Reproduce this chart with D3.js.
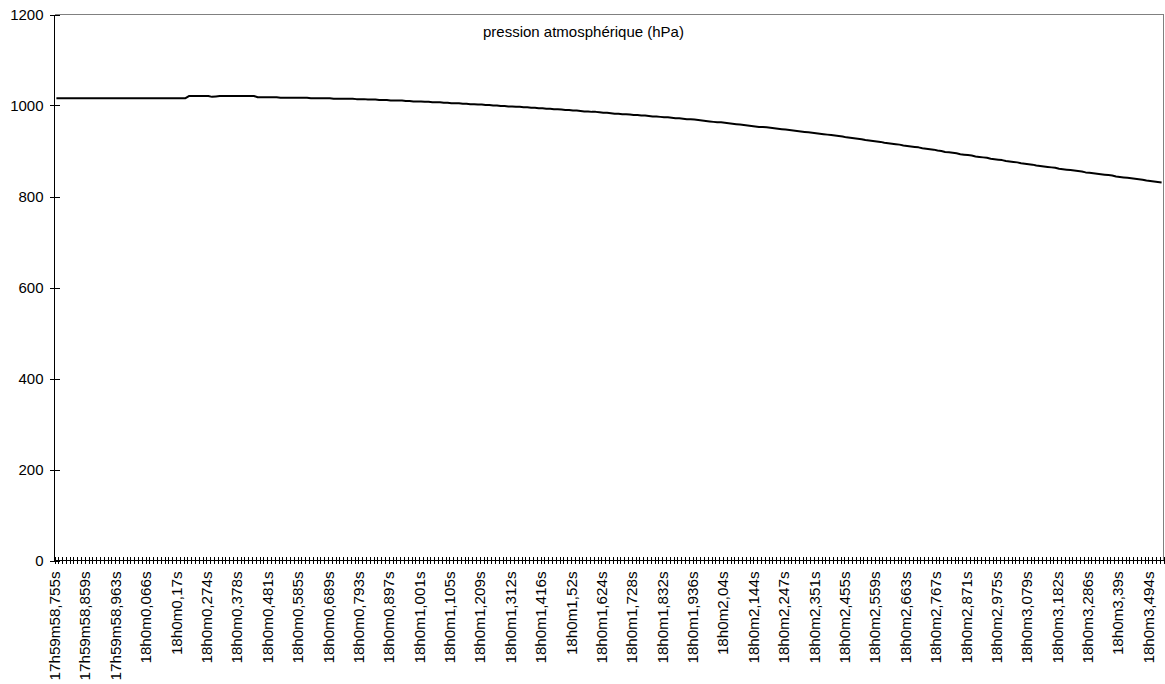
<!DOCTYPE html>
<html>
<head>
<meta charset="utf-8">
<script src="https://cdn.jsdelivr.net/npm/d3@7"></script>
<style>
  body { margin: 0; background: #fff; }
  svg { display: block; }
  text { font-family: Arial, "Liberation Sans", sans-serif; fill: #000; }
</style>
</head>
<body>
<svg id="chart" width="1165" height="684"></svg>
<script>
// Series title
const seriesName = "pression atmosphérique (hPa)";

// Pressure readings (hPa), one per sample
const pressure = [
  1016,1016,1016,1016,1016,1016,1016,1016,1016,1016,
  1016,1016,1016,1016,1016,1016,1016,1016,1016,1016,
  1016,1016,1016,1016,1016,1016,1016,1016,1016,1016,
  1016,1016,1016,1016,1016,1021,1021,1021,1021,1021,
  1021,1019,1020,1021,1021,1021,1021,1021,1021,1021,
  1021,1021,1021,1018,1018,1018,1018,1018,1018,1017,
  1017,1017,1017,1017,1017,1017,1017,1016,1016,1016,
  1016,1016,1016,1015,1015,1015,1015,1015,1015,1014,
  1014,1014,1013,1013,1013,1012,1012,1012,1011,1011,
  1011,1011,1010,1010,1009,1009,1009,1008,1008,1007,
  1007,1007,1006,1006,1005,1005,1005,1004,1004,1003,
  1003,1002,1002,1001,1001,1000,1000,999,999,998,
  998,997,997,996,996,995,995,994,994,993,
  993,992,992,991,990,990,989,989,988,987,
  987,986,986,985,984,984,983,982,982,981,
  981,980,979,979,978,978,977,976,976,975,
  974,974,973,972,972,971,970,970,969,968,
  967,966,965,964,963,963,962,961,960,959,
  958,957,956,955,954,953,953,952,951,950,
  949,948,947,946,945,944,943,942,941,940,
  939,938,937,936,935,934,933,932,930,929,
  928,927,926,924,923,922,921,920,918,917,
  916,915,914,912,911,910,909,908,906,905,
  904,903,901,900,898,897,896,895,893,892,
  891,890,888,887,886,885,883,882,881,880,
  878,877,876,875,873,872,871,870,868,867,
  866,865,864,863,861,860,859,858,857,856,
  855,853,852,851,850,849,848,847,846,844,
  843,842,841,840,839,838,837,835,834,833,
  832,831
];

// Time stamps shown on the category axis, one every `labelStep` samples
const timeLabels = [
  "17h59m58,755s","17h59m58,859s","17h59m58,963s",
  "18h0m0,066s","18h0m0,17s","18h0m0,274s","18h0m0,378s","18h0m0,481s",
  "18h0m0,585s","18h0m0,689s","18h0m0,793s","18h0m0,897s",
  "18h0m1,001s","18h0m1,105s","18h0m1,209s","18h0m1,312s","18h0m1,416s",
  "18h0m1,52s","18h0m1,624s","18h0m1,728s","18h0m1,832s","18h0m1,936s",
  "18h0m2,04s","18h0m2,144s","18h0m2,247s","18h0m2,351s","18h0m2,455s",
  "18h0m2,559s","18h0m2,663s","18h0m2,767s","18h0m2,871s","18h0m2,975s",
  "18h0m3,079s","18h0m3,182s","18h0m3,286s","18h0m3,39s","18h0m3,494s"
];
const labelStep = 8;

// Value axis ticks
const yTicks = [0, 200, 400, 600, 800, 1000, 1200];

const plot = { left: 54.5, right: 1163.5, top: 14.5, bottom: 560.5 };
const fontSize = 15;

const svg = d3.select("#chart");

const x = d3.scaleBand()
  .domain(d3.range(pressure.length))
  .range([plot.left, plot.right])
  .padding(0);

const y = d3.scaleLinear()
  .domain([0, 1200])
  .range([plot.bottom, plot.top]);

// Plot frame: top and right edges in grey
svg.append("path")
  .attr("d", `M${plot.left},${plot.top}H${plot.right}V${plot.bottom}`)
  .attr("fill", "none")
  .attr("stroke", "#808080")
  .attr("stroke-width", 1)
  .attr("shape-rendering", "crispEdges");

// Value axis (left), with crossing tick marks
const yAxis = svg.append("g");
yAxis.append("line")
  .attr("x1", plot.left).attr("x2", plot.left)
  .attr("y1", plot.top).attr("y2", plot.bottom)
  .attr("stroke", "#000").attr("shape-rendering", "crispEdges");
yAxis.selectAll("line.tick").data(yTicks).join("line")
  .attr("class", "tick")
  .attr("x1", plot.left - 5).attr("x2", plot.left + 5)
  .attr("y1", d => Math.round(y(d)) + 0.5).attr("y2", d => Math.round(y(d)) + 0.5)
  .attr("stroke", "#000").attr("shape-rendering", "crispEdges");
yAxis.selectAll("text").data(yTicks).join("text")
  .attr("x", plot.left - 11)
  .attr("y", d => y(d))
  .attr("dy", "0.35em")
  .attr("text-anchor", "end")
  .attr("font-size", fontSize)
  .text(d => d);

// Category axis (bottom): a crossing tick between every pair of samples
const xAxis = svg.append("g");
const boundaries = d3.range(pressure.length + 1).map(i =>
  i < pressure.length ? x(i) : x(pressure.length - 1) + x.bandwidth());
xAxis.selectAll("line.tick").data(boundaries).join("line")
  .attr("class", "tick")
  .attr("x1", d => Math.round(d) + 0.5).attr("x2", d => Math.round(d) + 0.5)
  .attr("y1", plot.bottom - 4).attr("y2", plot.bottom + 3)
  .attr("stroke", "#000").attr("shape-rendering", "crispEdges");
xAxis.append("line")
  .attr("x1", plot.left).attr("x2", plot.right)
  .attr("y1", plot.bottom).attr("y2", plot.bottom)
  .attr("stroke", "#000").attr("shape-rendering", "crispEdges");
xAxis.selectAll("text").data(timeLabels).join("text")
  .attr("transform", (d, k) =>
    `translate(${x(k * labelStep) + x.bandwidth() / 2},${plot.bottom + 11}) rotate(-90)`)
  .attr("dy", "0.24em")
  .attr("text-anchor", "end")
  .attr("font-size", 15.2)
  .text(d => d);

// Pressure curve
const line = d3.line()
  .x((d, i) => x(i) + x.bandwidth() / 2)
  .y(d => y(d));

svg.append("path")
  .datum(pressure)
  .attr("d", line)
  .attr("fill", "none")
  .attr("stroke", "#000")
  .attr("stroke-width", 2)
  .attr("stroke-linejoin", "round");

// Series title inside the plot area
svg.append("text")
  .attr("x", 483)
  .attr("y", 37)
  .attr("font-size", fontSize)
  .text(seriesName);
</script>
</body>
</html>
